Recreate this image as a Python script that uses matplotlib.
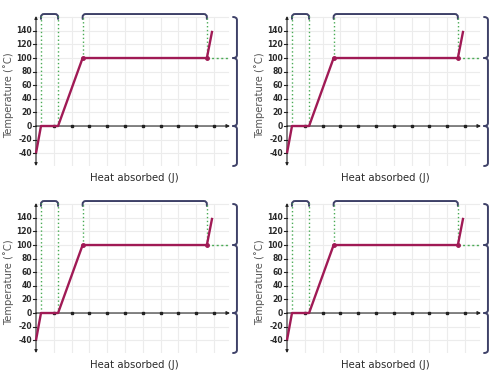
import matplotlib
matplotlib.use("Agg")
import matplotlib.pyplot as plt
from matplotlib.path import Path
from matplotlib.patches import PathPatch

# Datos de la curva de calentamiento
heat = [0, 0.28, 1.24, 2.62, 9.6, 9.9]
temp = [-40, 0, 0, 100, 100, 140]
y_ticks = [-40, -20, 0, 20, 40, 60, 80, 100, 120, 140]
x_ticks = [1, 2, 3, 4, 5, 6, 7, 8, 9, 10]
phase_x = [0.28, 1.24, 2.62, 9.6]      # cambios de fase
phase_y = [0, 0, 100, 100]

# Colores
LINE_COLOR = "#a01a55"
GREEN = "#4aab55"
NAVY = "#3e4168"
GRID = "#ececec"
TEXT = "#2a2a2a"

W, H = 500, 375
XMAX, YMIN, YMAX = 10.9, -58.8, 161.8

fig = plt.figure(figsize=(5, 3.75), dpi=100)
fig.patch.set_facecolor("white")


def bracket_top(ax, x0, x1, ytop=164.7, ybot=157.5, rx=0.17, ry=4.4):
    verts = [(x0, ybot), (x0, ytop - ry), (x0, ytop), (x0 + rx, ytop),
             (x1 - rx, ytop), (x1, ytop), (x1, ytop - ry), (x1, ybot)]
    codes = [Path.MOVETO, Path.LINETO, Path.CURVE3, Path.CURVE3,
             Path.LINETO, Path.CURVE3, Path.CURVE3, Path.LINETO]
    ax.add_patch(PathPatch(Path(verts, codes), fill=False, ec=NAVY, lw=1.4,
                           clip_on=False, capstyle="round"))


def bracket_right(ax, ylo, yhi, x=11.29, rx=0.22, ry=4.4):
    verts = [(x - rx, yhi), (x, yhi), (x, yhi - ry), (x, ylo + ry),
             (x, ylo), (x - rx, ylo)]
    codes = [Path.MOVETO, Path.CURVE3, Path.CURVE3, Path.LINETO,
             Path.CURVE3, Path.CURVE3]
    ax.add_patch(PathPatch(Path(verts, codes), fill=False, ec=NAVY, lw=1.4,
                           clip_on=False, capstyle="round"))


def draw_panel(ox, oy):
    ax = fig.add_axes([(ox + 36) / W, 1 - (oy + 166) / H, 194 / W, 150 / H])
    ax.set_xlim(0, XMAX)
    ax.set_ylim(YMIN, YMAX)
    for s in ax.spines.values():
        s.set_visible(False)
    ax.set_xticks([])
    ax.set_yticks([])

    # cuadricula
    for gx in x_ticks:
        ax.plot([gx, gx], [YMIN, 160], color=GRID, lw=0.8, zorder=0)
    for gy in [-40, -20, 20, 40, 60, 80, 100, 120, 140, 160]:
        ax.plot([0, 10.8], [gy, gy], color=GRID, lw=0.8, zorder=0)

    # ejes con flechas
    ax.annotate("", xy=(XMAX, 0), xytext=(0, 0),
                arrowprops=dict(arrowstyle="-|>", color="#222222", lw=0.8,
                                mutation_scale=5, shrinkA=0, shrinkB=0))
    ax.annotate("", xy=(0, YMAX), xytext=(0, 0),
                arrowprops=dict(arrowstyle="-|>", color="#222222", lw=0.8,
                                mutation_scale=4, shrinkA=0, shrinkB=0))
    ax.annotate("", xy=(0, YMIN), xytext=(0, 0),
                arrowprops=dict(arrowstyle="-|>", color="#222222", lw=0.8,
                                mutation_scale=4, shrinkA=0, shrinkB=0))
    ax.plot(x_ticks, [0] * len(x_ticks), "s", color="#222222", ms=1.6,
            zorder=4, clip_on=False)
    for ty in y_ticks:
        ax.plot([-0.17, 0], [ty, ty], color="#222222", lw=0.8, clip_on=False)
        ax.text(-0.22, ty, str(ty), ha="right", va="center", fontsize=5.5,
                fontweight="bold", color=TEXT)

    # lineas punteadas verdes
    for px, py in zip(phase_x, phase_y):
        ax.plot([px, px], [py, 162], color=GREEN, lw=1.0, ls=(0, (1, 1.8)),
                zorder=2, clip_on=False)
    ax.plot([phase_x[3], 10.85], [100, 100], color=GREEN, lw=1.0,
            ls=(0, (1.5, 1.8)), zorder=2, clip_on=False)

    # curva
    ax.plot(heat, temp, color=LINE_COLOR, lw=1.7, zorder=5,
            solid_capstyle="butt", clip_on=False)
    ax.plot([phase_x[2], phase_x[3]], [100, 100], "o", color=LINE_COLOR,
            ms=2.5, zorder=6)

    # llaves
    bracket_top(ax, phase_x[0], phase_x[1])
    bracket_top(ax, phase_x[2], phase_x[3])
    bracket_right(ax, 100, 160.3)
    bracket_right(ax, 0, 100)
    bracket_right(ax, YMIN, 0)

    # etiquetas
    ax.text((134 - 36) / 17.8, (126 - 178) / 0.68, "Heat absorbed (J)",
            ha="center", va="center", fontsize=7.3, color=TEXT, clip_on=False)
    ax.text((9 - 36) / 17.8, (126 - 95) / 0.68, "Temperature (\u02daC)",
            ha="center", va="center", rotation=90, fontsize=7.2,
            color="#555555", family=["Liberation Sans Narrow", "DejaVu Sans"],
            clip_on=False)


for ox, oy in [(0, 0), (251, 0), (0, 187), (251, 187)]:
    draw_panel(ox, oy)

fig.savefig("out.png", dpi=100, facecolor="white")
